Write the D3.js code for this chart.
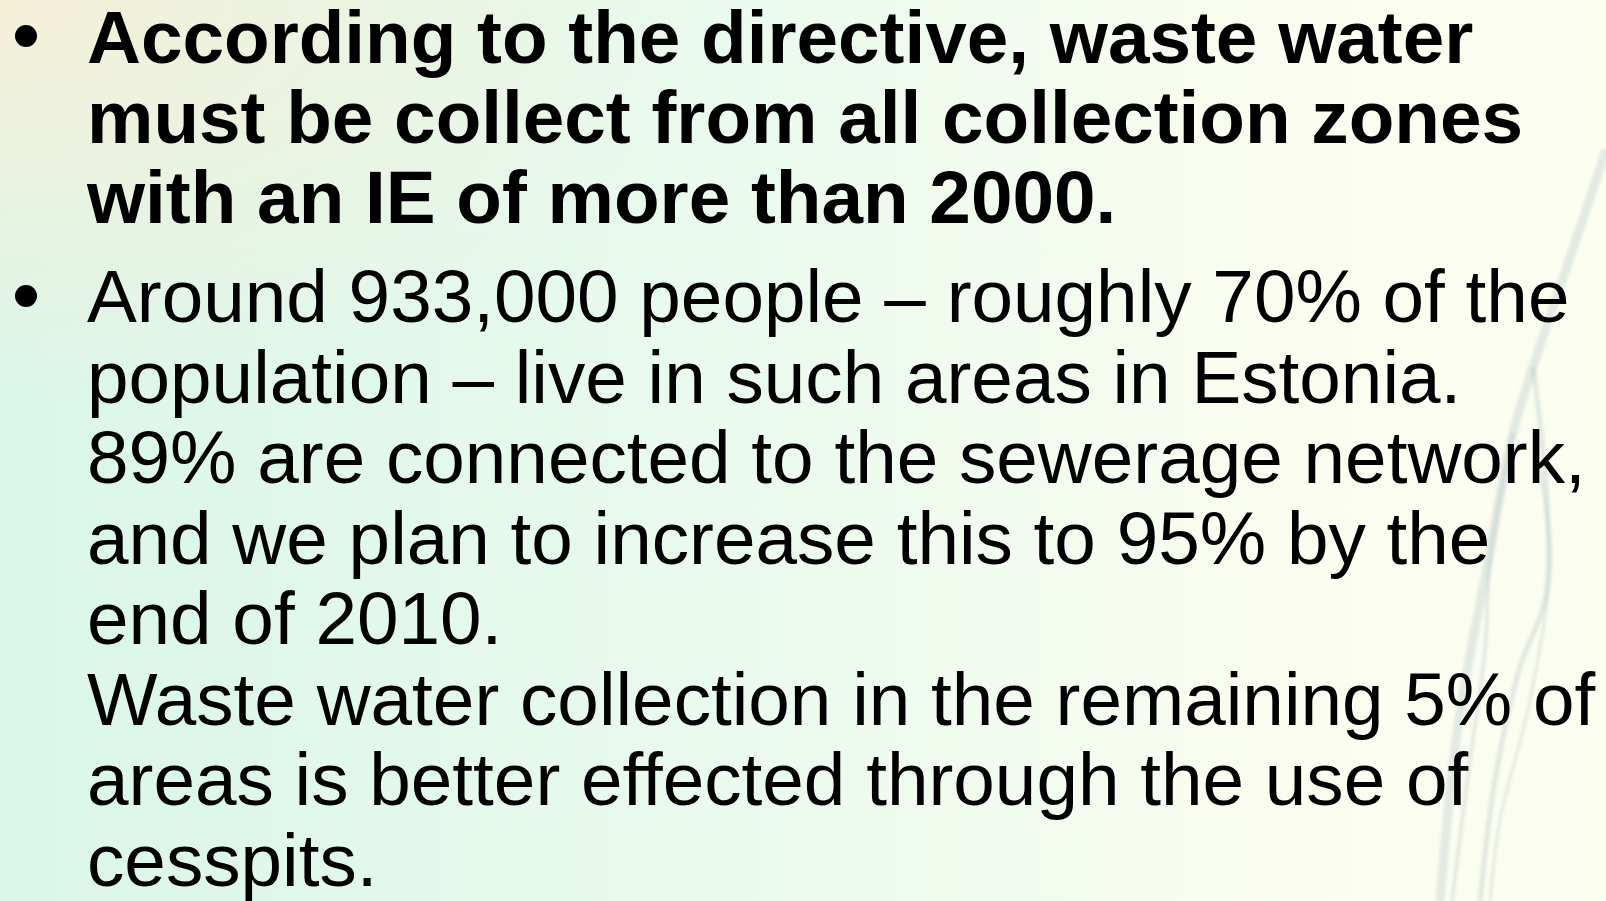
<!DOCTYPE html>
<html><head><meta charset="utf-8">
<script src="https://cdn.jsdelivr.net/npm/d3@7"></script>
<style>html,body{margin:0;padding:0;overflow:hidden;background:#f8fcef}</style>
</head><body>
<script>
const boldLines = [
  "According to the directive, waste water",
  "must be collect from all collection zones",
  "with an IE of more than 2000."
];
const normalLines = [
  "Around 933,000 people \u2013 roughly 70% of the",
  "population \u2013 live in such areas in Estonia.",
  "89% are connected to the sewerage network,",
  "and we plan to increase this to 95% by the",
  "end of 2010.",
  "Waste water collection in the remaining 5% of",
  "areas is better effected through the use of",
  "cesspits."
];
const bullets = [0, 1];

const W = 1606, H = 901;
const svg = d3.select("body").append("svg").attr("width", W).attr("height", H);
const defs = svg.append("defs");

const lg = defs.append("linearGradient").attr("id","bg").attr("x1","0").attr("y1","0").attr("x2","1").attr("y2","0");
lg.append("stop").attr("offset","0").attr("stop-color","#daf6ea");
lg.append("stop").attr("offset","0.45").attr("stop-color","#eafaee");
lg.append("stop").attr("offset","0.8").attr("stop-color","#fafdf0");
lg.append("stop").attr("offset","1").attr("stop-color","#fcfef0");
svg.append("rect").attr("width",W).attr("height",H).attr("fill","url(#bg)");

const rg = defs.append("radialGradient").attr("id","tl").attr("cx","0").attr("cy","0").attr("r","0.45");
rg.append("stop").attr("offset","0").attr("stop-color","#f5f0d8").attr("stop-opacity",1);
rg.append("stop").attr("offset","1").attr("stop-color","#f5f0d8").attr("stop-opacity",0);
svg.append("rect").attr("width",W).attr("height",H).attr("fill","url(#tl)");

// decorative water streaks
defs.append("filter").attr("id","bl").append("feGaussianBlur").attr("stdDeviation",1.8);
const streaks = [
  {pts:[[1606,150],[1560,287],[1533,367],[1513,433],[1487,567],[1457,733],[1440,901]], w:9, o:0.3},
  {pts:[[1533,367],[1547,500],[1545,600],[1520,667],[1495,780],[1480,901]], w:5, o:0.32},
  {pts:[[1513,433],[1490,560],[1485,650],[1470,760],[1452,901]], w:4, o:0.3},
  {pts:[[1540,470],[1550,560],[1530,700],[1500,820],[1490,901]], w:3, o:0.3}
];
const line = d3.line().curve(d3.curveCatmullRom);
svg.selectAll("path.streak").data(streaks).join("path")
  .attr("class","streak").attr("d", d=>line(d.pts))
  .attr("fill","none").attr("stroke","#a9bcc2").attr("stroke-width",d=>d.w)
  .attr("stroke-opacity",d=>d.o).attr("filter","url(#bl)");

const x0 = 87;
const fs = 74.7;
const yBold = d3.scaleLinear().domain([0,1]).range([63, 143]);
const yNorm = d3.scaleLinear().domain([0,1]).range([322, 402.5]);

svg.selectAll("text.b").data(boldLines).join("text")
  .attr("class","b").attr("x",x0).attr("y",(d,i)=>yBold(i))
  .attr("font-family","'Liberation Sans', Arial, sans-serif")
  .attr("font-weight","bold").attr("font-size",fs).attr("fill","#000").text(d=>d);

svg.selectAll("text.n").data(normalLines).join("text")
  .attr("class","n").attr("x",x0).attr("y",(d,i)=>yNorm(i))
  .attr("font-family","'Liberation Sans', Arial, sans-serif")
  .attr("font-size",fs).attr("fill","#000").text(d=>d);

const bulletY = [36, 296];
svg.selectAll("circle.bul").data(bullets).join("circle")
  .attr("class","bul").attr("cx",26).attr("cy",d=>bulletY[d]).attr("r",11).attr("fill","#000");
</script>
</body></html>
